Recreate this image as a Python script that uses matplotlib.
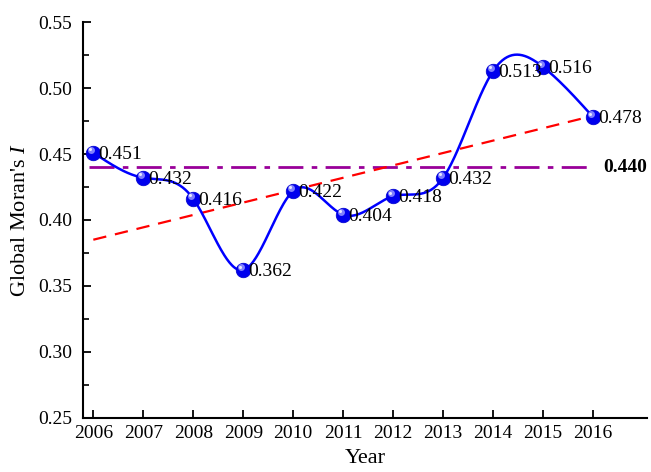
import numpy as np
import matplotlib
matplotlib.use("Agg")
import matplotlib.pyplot as plt
from matplotlib.transforms import offset_copy
from matplotlib.ticker import MultipleLocator

plt.rcParams["font.family"] = ["Liberation Serif", "DejaVu Serif"]
plt.rcParams["mathtext.fontset"] = "custom"
plt.rcParams["mathtext.rm"] = "Liberation Serif"
plt.rcParams["mathtext.it"] = "Liberation Serif:italic"

years = [2006, 2007, 2008, 2009, 2010, 2011, 2012, 2013, 2014, 2015, 2016]
morans_i = [0.451, 0.432, 0.416, 0.362, 0.422, 0.404, 0.418, 0.432, 0.513, 0.516, 0.478]
mean_value = 0.440
trend_years = [2006, 2016]
trend_values = [0.385, 0.479]
y_ticks = [0.25, 0.30, 0.35, 0.40, 0.45, 0.50, 0.55]


def natural_cubic_spline(x, y, xs):
    x = np.asarray(x, float)
    y = np.asarray(y, float)
    n = len(x)
    h = np.diff(x)
    A = np.zeros((n, n))
    b = np.zeros(n)
    A[0, 0] = A[-1, -1] = 1.0
    for i in range(1, n - 1):
        A[i, i - 1] = h[i - 1]
        A[i, i] = 2 * (h[i - 1] + h[i])
        A[i, i + 1] = h[i]
        b[i] = 3 * ((y[i + 1] - y[i]) / h[i] - (y[i] - y[i - 1]) / h[i - 1])
    c = np.linalg.solve(A, b)
    out = np.empty_like(xs)
    for k, xv in enumerate(xs):
        i = min(max(np.searchsorted(x, xv) - 1, 0), n - 2)
        dx = xv - x[i]
        bi = (y[i + 1] - y[i]) / h[i] - h[i] * (2 * c[i] + c[i + 1]) / 3
        di = (c[i + 1] - c[i]) / (3 * h[i])
        out[k] = y[i] + bi * dx + c[i] * dx ** 2 + di * dx ** 3
    return out


fig = plt.figure(figsize=(6.51, 4.72), dpi=100)
ax = fig.add_axes([0.128, 0.115, 0.866, 0.838])

xs = np.linspace(years[0], years[-1], 600)
ax.plot(xs, natural_cubic_spline(years, morans_i, xs), color="#0000ff", lw=1.8, zorder=3)

ax.plot([2005.92, years[-1]], [mean_value, mean_value], color="#990099",
        lw=2.0, dashes=(9, 3, 2, 3), zorder=2)
ax.plot(trend_years, trend_values, color="#ff0000", lw=1.6, dashes=(6, 4), zorder=2)

# shaded sphere markers
ax.plot(years, morans_i, "o", ms=10.5, color="#0000ee", mec="#0000cc", mew=0.5, zorder=4)
hl = offset_copy(ax.transData, fig=fig, x=-1.6, y=2.0, units="points")
ax.plot(years, morans_i, "o", ms=5.0, color="#8f8fff", mew=0, alpha=0.9,
        transform=hl, zorder=5)
hl2 = offset_copy(ax.transData, fig=fig, x=-2.1, y=2.5, units="points")
ax.plot(years, morans_i, "o", ms=2.2, color="#e8e8ff", mew=0, transform=hl2, zorder=6)

for x, v in zip(years, morans_i):
    ax.annotate(f"{v:.3f}", (x, v), xytext=(3.5, -1), textcoords="offset points",
                va="center", ha="left", fontsize=14, zorder=7)

ax.text(2016.2, mean_value, f"{mean_value:.3f}", fontsize=14, fontweight="bold",
        va="center", ha="left")

ax.set_xlim(2005.8, 2017.08)
ax.set_ylim(0.25, 0.55)
ax.set_xticks(years)
ax.set_xticklabels([str(y) for y in years])
ax.set_yticks(y_ticks)
ax.set_yticklabels([f"{t:.2f}" for t in y_ticks])
ax.yaxis.set_minor_locator(MultipleLocator(0.025))

for s in ("top", "right"):
    ax.spines[s].set_visible(False)
for s in ("left", "bottom"):
    ax.spines[s].set_linewidth(1.5)

ax.tick_params(axis="both", which="major", direction="in", length=6, width=1.3,
               labelsize=14)
ax.tick_params(axis="y", which="minor", direction="in", length=4, width=1.2)
ax.tick_params(axis="x", pad=5)
ax.tick_params(axis="y", pad=8)

ax.set_xlabel("Year", fontsize=16, labelpad=5)
ax.set_ylabel("Global Moran's $I$", fontsize=16, labelpad=6)

fig.savefig("out.png", dpi=100)
